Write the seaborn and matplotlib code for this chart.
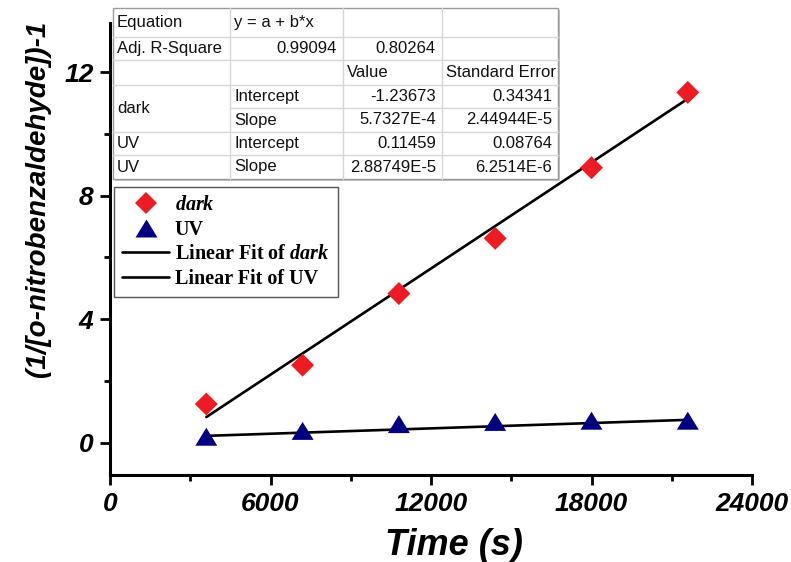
import matplotlib
matplotlib.use("Agg")
import matplotlib.pyplot as plt
import seaborn as sns
import pandas as pd
from matplotlib.lines import Line2D
from matplotlib.patches import Rectangle
from matplotlib.ticker import MultipleLocator
from matplotlib.font_manager import FontProperties

# Measured data: time (s) vs 1/[o-nitrobenzaldehyde] - 1
time_s = [3600, 7200, 10800, 14400, 18000, 21600]
dark = [1.25, 2.51, 4.83, 6.62, 8.91, 11.35]
uv = [0.19, 0.38, 0.60, 0.67, 0.71, 0.71]

# Linear fit results (y = a + b*x)
fit_names = ["dark", "UV"]
adj_r2 = ["0.99094", "0.80264"]
fit_intercept = ["-1.23673", "0.11459"]
fit_intercept_err = ["0.34341", "0.08764"]
fit_slope = ["5.7327E-4", "2.88749E-5"]
fit_slope_err = ["2.44944E-5", "6.2514E-6"]

RED = "#ED1C24"
NAVY = "#000080"

sns.set_style("ticks")
plt.rcParams["font.family"] = ["Liberation Sans", "DejaVu Sans"]
plt.rcParams["text.color"] = "black"
plt.rcParams["axes.labelcolor"] = "black"
plt.rcParams["xtick.color"] = "black"
plt.rcParams["ytick.color"] = "black"
plt.rcParams["mathtext.fontset"] = "custom"
plt.rcParams["mathtext.bfit"] = "Liberation Serif:italic:bold"
plt.rcParams["mathtext.rm"] = "Liberation Serif:bold"

W, H = 791, 562
fig = plt.figure(figsize=(W / 100, H / 100), dpi=100)
ax = fig.add_axes([110 / W, 1 - 475 / H, (752 - 110) / W, (475 - 23) / H])

pts = pd.DataFrame({"time": time_s, "dark": dark, "uv": uv})

# fitted lines from the tabulated coefficients
x_fit = [time_s[0], time_s[-1]]
for a, b in zip(fit_intercept, fit_slope):
    y_fit = [float(a) + float(b) * x for x in x_fit]
    sns.lineplot(x=x_fit, y=y_fit, color="black", linewidth=1.9, ax=ax,
                 legend=False, zorder=2)

tri = [(0, 0.82), (-1, -0.82), (1, -0.82)]
sns.scatterplot(data=pts, x="time", y="dark", marker="D", s=11.7 ** 2,
                color=RED, edgecolor="none", linewidth=0, ax=ax, zorder=3,
                legend=False)
sns.scatterplot(data=pts, x="time", y="uv", marker=tri, s=15.8 ** 2,
                color=NAVY, edgecolor="none", linewidth=0, ax=ax, zorder=3,
                legend=False)

ax.set_xlim(0, 24000)
ax.set_ylim(-1.05, 13.6)
ax.xaxis.set_major_locator(MultipleLocator(6000))
ax.xaxis.set_minor_locator(MultipleLocator(3000))
ax.yaxis.set_major_locator(MultipleLocator(4))
ax.yaxis.set_minor_locator(MultipleLocator(2))
ax.set_yticks([0, 4, 8, 12])

for side in ["top", "right"]:
    ax.spines[side].set_visible(False)
for side in ["left", "bottom"]:
    ax.spines[side].set_linewidth(2.2)
    ax.spines[side].set_color("black")

ax.tick_params(which="major", length=7, width=2, direction="out", pad=5,
               color="black", labelcolor="black")
ax.tick_params(which="minor", length=4, width=2, direction="out",
               color="black")
tick_font = FontProperties(family="Liberation Sans", weight="bold",
                           style="italic", size=19)
for lab in ax.get_xticklabels() + ax.get_yticklabels():
    lab.set_fontproperties(tick_font)

ax.set_xlabel("Time (s)", fontsize=26, fontweight="bold", fontstyle="italic",
              color="black")
ax.xaxis.set_label_coords(0.535, -0.117)
ax.set_ylabel("(1/[o-nitrobenzaldehyde])-1", fontsize=20,
              fontweight="bold", fontstyle="italic", color="black")
ax.yaxis.set_label_coords(-0.092, 0.61)

# legend
handles = [
    Line2D([], [], marker="D", color=RED, linestyle="none", markersize=11.7,
           markeredgewidth=0),
    Line2D([], [], marker=tri, color=NAVY, linestyle="none", markersize=15.8,
           markeredgewidth=0),
    Line2D([], [], color="black", linewidth=1.9),
    Line2D([], [], color="black", linewidth=1.9),
]
labels = [r"$\mathbfit{dark}$", "UV", r"Linear Fit of $\mathbfit{dark}$",
          "Linear Fit of UV"]
leg = ax.legend(handles, labels, loc="upper left",
                bbox_to_anchor=(114 / W, 1 - 187 / H),
                bbox_transform=fig.transFigure, frameon=True, fancybox=False,
                edgecolor="#555555", framealpha=1,
                prop=FontProperties(family="Liberation Serif", weight="bold",
                                    size=14.5),
                handlelength=2.3, handletextpad=0.3, borderpad=0.42,
                labelspacing=0.22, borderaxespad=0)
leg.get_frame().set_linewidth(1.0)
for t in leg.get_texts():
    t.set_color("black")

# fit results table, drawn in pixel coordinates on an overlay
tab = fig.add_axes([0, 0, 1, 1], facecolor="none")
tab.set_xlim(0, W)
tab.set_ylim(H, 0)
tab.axis("off")

col_x = [113, 230, 343, 442, 558]
row_y = [8, 37, 60, 85, 108, 132, 155, 179]
grid_c = "#d6d6d6"
border_c = "#9a9a9a"

tab.add_patch(Rectangle((col_x[0] + 2, row_y[0] + 2), col_x[-1] - col_x[0],
                        row_y[-1] - row_y[0], facecolor="#c4c4c4",
                        edgecolor="none", zorder=1))
tab.add_patch(Rectangle((col_x[0], row_y[0]), col_x[-1] - col_x[0],
                        row_y[-1] - row_y[0], facecolor="white",
                        edgecolor=border_c, linewidth=1.0, zorder=2))
for x in col_x[1:-1]:
    tab.plot([x, x], [row_y[0], row_y[-1]], color=grid_c, lw=1.0, zorder=3)
for i, y in enumerate(row_y[1:-1], start=1):
    x0 = col_x[1] if i == 4 else col_x[0]
    tab.plot([x0, col_x[-1]], [y, y], color=grid_c, lw=1.0, zorder=3)

cell_font = dict(fontsize=12, color="#111111", zorder=4,
                 family="Liberation Sans")


def cell(text, row, col, align="left", span=1):
    yc = (row_y[row] + row_y[row + span]) / 2
    if align == "left":
        tab.text(col_x[col] + 4, yc, text, ha="left", va="center", **cell_font)
    else:
        tab.text(col_x[col + 1] - 6, yc, text, ha="right", va="center",
                 **cell_font)


cell("Equation", 0, 0)
cell("y = a + b*x", 0, 1)
cell("Adj. R-Square", 1, 0)
cell(adj_r2[0], 1, 1, "right")
cell(adj_r2[1], 1, 2, "right")
cell("Value", 2, 2)
cell("Standard Error", 2, 3)
cell(fit_names[0], 3, 0, span=2)
cell("Intercept", 3, 1)
cell(fit_intercept[0], 3, 2, "right")
cell(fit_intercept_err[0], 3, 3, "right")
cell("Slope", 4, 1)
cell(fit_slope[0], 4, 2, "right")
cell(fit_slope_err[0], 4, 3, "right")
cell(fit_names[1], 5, 0)
cell("Intercept", 5, 1)
cell(fit_intercept[1], 5, 2, "right")
cell(fit_intercept_err[1], 5, 3, "right")
cell(fit_names[1], 6, 0)
cell("Slope", 6, 1)
cell(fit_slope[1], 6, 2, "right")
cell(fit_slope_err[1], 6, 3, "right")

fig.savefig("out.png", dpi=100)
